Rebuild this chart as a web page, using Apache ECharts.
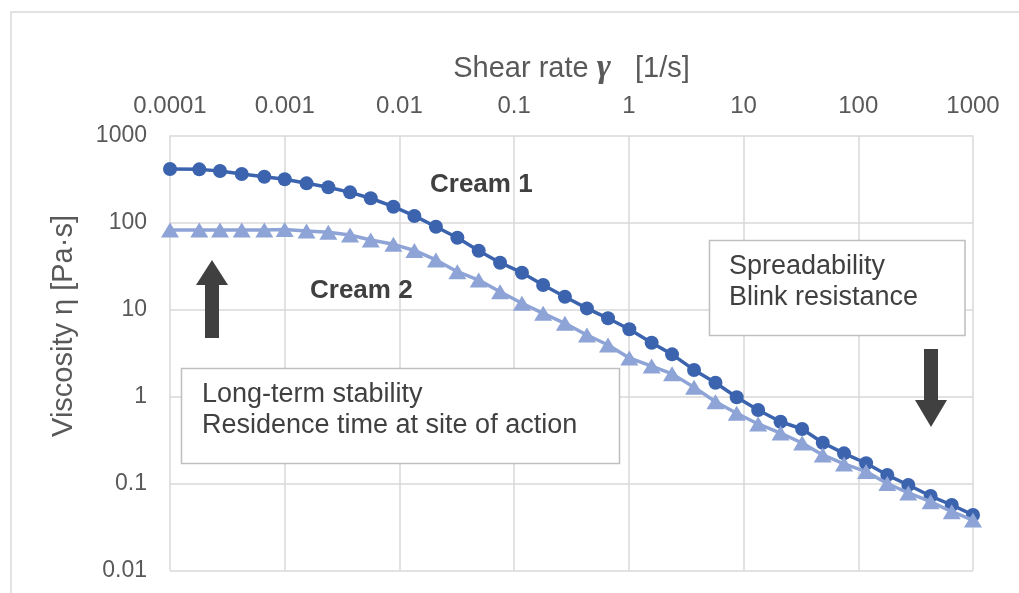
<!DOCTYPE html>
<html>
<head>
<meta charset="utf-8">
<script src="https://cdn.jsdelivr.net/npm/echarts@6/dist/echarts.min.js"></script>
<style>
html,body{margin:0;padding:0;background:#fff;}
#c{width:1019px;height:593px;}
</style>
</head>
<body>
<div id="c"></div>
<script>
// ---- data ----
const shearRate = [0.0001, 0.00018, 0.000273, 0.000422, 0.000664, 0.001, 0.00155, 0.0024, 0.00371, 0.00562,
  0.00886, 0.0135, 0.0208, 0.032, 0.0491, 0.0754, 0.117, 0.179, 0.277, 0.431,
  0.658, 1.01, 1.58, 2.38, 3.70, 5.69, 8.71, 13.4, 21.0, 32.4,
  49.0, 75.1, 117, 179, 273, 427, 653, 1000];
const cream1 = [412, 408, 391, 361, 336, 314, 282, 254, 222, 190,
  152, 119, 89.5, 66.9, 47.4, 34.5, 26.5, 19.1, 14.0, 10.3,
  7.92, 5.92, 4.15, 3.05, 2.02, 1.44, 0.98, 0.70, 0.513, 0.423,
  0.294, 0.222, 0.171, 0.125, 0.096, 0.0718, 0.0566, 0.0435];
const cream2 = [82, 82, 82, 82, 82, 83, 79.8, 77.1, 71.8, 62.9,
  56.1, 47.7, 37.1, 27.2, 21.8, 16.0, 11.8, 9.04, 6.93, 5.09,
  3.91, 2.77, 2.24, 1.82, 1.28, 0.871, 0.641, 0.483, 0.380, 0.292,
  0.213, 0.168, 0.137, 0.100, 0.078, 0.0618, 0.0474, 0.038];
const seriesNames = ['Cream 1', 'Cream 2'];
const xTickLabels = ['0.0001', '0.001', '0.01', '0.1', '1', '10', '100', '1000'];
const yTickLabels = ['0.01', '0.1', '1', '10', '100', '1000'];
const xAxisName = 'Shear rate {g|γ}   [1/s]';
const yAxisName = 'Viscosity η [Pa·s]';
const noteLow = ['Long-term stability', 'Residence time at site of action'];
const noteHigh = ['Spreadability', 'Blink resistance'];

const FONT = '"Liberation Sans", Arial, sans-serif';
const pairs = (ys) => shearRate.map((x, i) => [x, ys[i]]);

const chart = echarts.init(document.getElementById('c'), null, {renderer: 'canvas'});
const option = {
  backgroundColor: '#ffffff',
  animation: false,
  textStyle: {fontFamily: FONT},
  grid: {left: 170, right: 46, top: 135.5, bottom: 22.5, containLabel: false},
  xAxis: {
    type: 'log', logBase: 10, position: 'top', min: 0.0001, max: 1000,
    name: xAxisName, nameLocation: 'middle', nameGap: 50,
    nameTextStyle: {color: '#595959', fontSize: 29, fontFamily: FONT,
      rich: {g: {fontSize: 34, fontStyle: 'italic', fontWeight: 'bold', fontFamily: '"Liberation Serif", serif', color: '#595959'}}},
    axisLine: {show: false}, axisTick: {show: false},
    axisLabel: {color: '#595959', fontSize: 24, margin: 17, fontFamily: FONT,
      formatter: v => xTickLabels[Math.round(Math.log10(v)) + 4]},
    splitLine: {show: true, lineStyle: {color: '#D9D9D9', width: 1.5}},
    minorSplitLine: {show: false}
  },
  yAxis: {
    type: 'log', logBase: 10, min: 0.01, max: 1000,
    name: yAxisName, nameLocation: 'middle', nameGap: 92, nameRotate: 90,
    nameTextStyle: {color: '#595959', fontSize: 29, fontFamily: FONT, padding: [0, 0, 0, 54]},
    axisLine: {show: false}, axisTick: {show: false},
    axisLabel: {color: '#595959', fontSize: 23, margin: 23, fontFamily: FONT,
      formatter: v => yTickLabels[Math.round(Math.log10(v)) + 2]},
    splitLine: {show: true, lineStyle: {color: '#D9D9D9', width: 1.5}}
  },
  series: [
    {name: seriesNames[0], type: 'line', data: pairs(cream1), symbol: 'circle', symbolSize: 14,
      itemStyle: {color: '#3B63AE'}, lineStyle: {color: '#3B63AE', width: 3.5}, z: 3},
    {name: seriesNames[1], type: 'line', data: pairs(cream2), symbol: 'triangle', symbolSize: [18, 15],
      itemStyle: {color: '#8EA3D6'}, lineStyle: {color: '#8EA3D6', width: 3.5}, z: 4}
  ],
  graphic: [
    {type: 'rect', silent: true, z: -10, shape: {x: 11, y: 12, width: 1100, height: 700},
      style: {fill: 'none', stroke: '#D9D9D9', lineWidth: 1.5}},
    {type: 'rect', z: 10, shape: {x: 181.5, y: 368.5, width: 438, height: 95},
      style: {fill: '#ffffff', stroke: '#BFBFBF', lineWidth: 1.5}},
    {type: 'text', z: 11, style: {x: 202, y: 395, text: noteLow[0], fill: '#404040', font: '27px ' + FONT, textVerticalAlign: 'middle'}},
    {type: 'text', z: 11, style: {x: 202, y: 426, text: noteLow[1], fill: '#404040', font: '27px ' + FONT, textVerticalAlign: 'middle'}},
    {type: 'rect', z: 10, shape: {x: 709.5, y: 240.5, width: 255.5, height: 95},
      style: {fill: '#ffffff', stroke: '#BFBFBF', lineWidth: 1.5}},
    {type: 'text', z: 11, style: {x: 729, y: 267, text: noteHigh[0], fill: '#404040', font: '27px ' + FONT, textVerticalAlign: 'middle'}},
    {type: 'text', z: 11, style: {x: 729, y: 298, text: noteHigh[1], fill: '#404040', font: '27px ' + FONT, textVerticalAlign: 'middle'}},
    {type: 'text', z: 11, style: {x: 430, y: 185, text: seriesNames[0], fill: '#404040', font: 'bold 26px ' + FONT, textVerticalAlign: 'middle'}},
    {type: 'text', z: 11, style: {x: 310, y: 291, text: seriesNames[1], fill: '#404040', font: 'bold 26px ' + FONT, textVerticalAlign: 'middle'}},
    {type: 'polygon', z: 11, shape: {points: [[212, 260], [228, 285], [219, 285], [219, 338], [205, 338], [205, 285], [196, 285]]},
      style: {fill: '#404040'}},
    {type: 'polygon', z: 11, shape: {points: [[924, 349], [938, 349], [938, 400], [947, 400], [931, 427], [915, 400], [924, 400]]},
      style: {fill: '#404040'}}
  ]
};
chart.setOption(option);
</script>
</body>
</html>
